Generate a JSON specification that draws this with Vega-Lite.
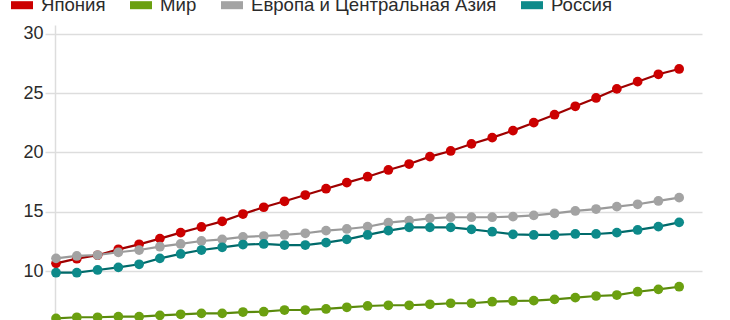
{
  "$schema": "https://vega.github.io/schema/vega-lite/v6.json",
  "autosize": "none",
  "width": 647,
  "height": 295,
  "padding": {"left": 55, "top": 25, "right": 28, "bottom": 0},
  "background": "white",
  "config": {
    "view": {"stroke": null},
    "font": "Liberation Sans"
  },
  "datasets": {
    "d": [
      {"year": 1985, "s": "Япония", "v": 10.67},
      {"year": 1986, "s": "Япония", "v": 11.06},
      {"year": 1987, "s": "Япония", "v": 11.35},
      {"year": 1988, "s": "Япония", "v": 11.85},
      {"year": 1989, "s": "Япония", "v": 12.27},
      {"year": 1990, "s": "Япония", "v": 12.75},
      {"year": 1991, "s": "Япония", "v": 13.25},
      {"year": 1992, "s": "Япония", "v": 13.73},
      {"year": 1993, "s": "Япония", "v": 14.2},
      {"year": 1994, "s": "Япония", "v": 14.82},
      {"year": 1995, "s": "Япония", "v": 15.39},
      {"year": 1996, "s": "Япония", "v": 15.89},
      {"year": 1997, "s": "Япония", "v": 16.42},
      {"year": 1998, "s": "Япония", "v": 16.95},
      {"year": 1999, "s": "Япония", "v": 17.46},
      {"year": 2000, "s": "Япония", "v": 17.96},
      {"year": 2001, "s": "Япония", "v": 18.53},
      {"year": 2002, "s": "Япония", "v": 19.03},
      {"year": 2003, "s": "Япония", "v": 19.65},
      {"year": 2004, "s": "Япония", "v": 20.13},
      {"year": 2005, "s": "Япония", "v": 20.72},
      {"year": 2006, "s": "Япония", "v": 21.25},
      {"year": 2007, "s": "Япония", "v": 21.84},
      {"year": 2008, "s": "Япония", "v": 22.51},
      {"year": 2009, "s": "Япония", "v": 23.18},
      {"year": 2010, "s": "Япония", "v": 23.89},
      {"year": 2011, "s": "Япония", "v": 24.59},
      {"year": 2012, "s": "Япония", "v": 25.35},
      {"year": 2013, "s": "Япония", "v": 25.96},
      {"year": 2014, "s": "Япония", "v": 26.58},
      {"year": 2015, "s": "Япония", "v": 27.03},
      {"year": 1985, "s": "Мир", "v": 6.04},
      {"year": 1986, "s": "Мир", "v": 6.13},
      {"year": 1987, "s": "Мир", "v": 6.13},
      {"year": 1988, "s": "Мир", "v": 6.18},
      {"year": 1989, "s": "Мир", "v": 6.18},
      {"year": 1990, "s": "Мир", "v": 6.29},
      {"year": 1991, "s": "Мир", "v": 6.38},
      {"year": 1992, "s": "Мир", "v": 6.46},
      {"year": 1993, "s": "Мир", "v": 6.46},
      {"year": 1994, "s": "Мир", "v": 6.57},
      {"year": 1995, "s": "Мир", "v": 6.6},
      {"year": 1996, "s": "Мир", "v": 6.74},
      {"year": 1997, "s": "Мир", "v": 6.74},
      {"year": 1998, "s": "Мир", "v": 6.83},
      {"year": 1999, "s": "Мир", "v": 6.97},
      {"year": 2000, "s": "Мир", "v": 7.08},
      {"year": 2001, "s": "Мир", "v": 7.14},
      {"year": 2002, "s": "Мир", "v": 7.14},
      {"year": 2003, "s": "Мир", "v": 7.22},
      {"year": 2004, "s": "Мир", "v": 7.31},
      {"year": 2005, "s": "Мир", "v": 7.31},
      {"year": 2006, "s": "Мир", "v": 7.44},
      {"year": 2007, "s": "Мир", "v": 7.5},
      {"year": 2008, "s": "Мир", "v": 7.53},
      {"year": 2009, "s": "Мир", "v": 7.64},
      {"year": 2010, "s": "Мир", "v": 7.78},
      {"year": 2011, "s": "Мир", "v": 7.92},
      {"year": 2012, "s": "Мир", "v": 8.0},
      {"year": 2013, "s": "Мир", "v": 8.28},
      {"year": 2014, "s": "Мир", "v": 8.48},
      {"year": 2015, "s": "Мир", "v": 8.7},
      {"year": 1985, "s": "Европа и Центральная Азия", "v": 11.09},
      {"year": 1986, "s": "Европа и Центральная Азия", "v": 11.29},
      {"year": 1987, "s": "Европа и Центральная Азия", "v": 11.37},
      {"year": 1988, "s": "Европа и Центральная Азия", "v": 11.6},
      {"year": 1989, "s": "Европа и Центральная Азия", "v": 11.79},
      {"year": 1990, "s": "Европа и Центральная Азия", "v": 12.07},
      {"year": 1991, "s": "Европа и Центральная Азия", "v": 12.3},
      {"year": 1992, "s": "Европа и Центральная Азия", "v": 12.55},
      {"year": 1993, "s": "Европа и Центральная Азия", "v": 12.69},
      {"year": 1994, "s": "Европа и Центральная Азия", "v": 12.9},
      {"year": 1995, "s": "Европа и Центральная Азия", "v": 12.97},
      {"year": 1996, "s": "Европа и Центральная Азия", "v": 13.06},
      {"year": 1997, "s": "Европа и Центральная Азия", "v": 13.2},
      {"year": 1998, "s": "Европа и Центральная Азия", "v": 13.42},
      {"year": 1999, "s": "Европа и Центральная Азия", "v": 13.56},
      {"year": 2000, "s": "Европа и Центральная Азия", "v": 13.75},
      {"year": 2001, "s": "Европа и Центральная Азия", "v": 14.09},
      {"year": 2002, "s": "Европа и Центральная Азия", "v": 14.26},
      {"year": 2003, "s": "Европа и Центральная Азия", "v": 14.46},
      {"year": 2004, "s": "Европа и Центральная Азия", "v": 14.55},
      {"year": 2005, "s": "Европа и Центральная Азия", "v": 14.55},
      {"year": 2006, "s": "Европа и Центральная Азия", "v": 14.55},
      {"year": 2007, "s": "Европа и Центральная Азия", "v": 14.6},
      {"year": 2008, "s": "Европа и Центральная Азия", "v": 14.71},
      {"year": 2009, "s": "Европа и Центральная Азия", "v": 14.88},
      {"year": 2010, "s": "Европа и Центральная Азия", "v": 15.08},
      {"year": 2011, "s": "Европа и Центральная Азия", "v": 15.24},
      {"year": 2012, "s": "Европа и Центральная Азия", "v": 15.44},
      {"year": 2013, "s": "Европа и Центральная Азия", "v": 15.64},
      {"year": 2014, "s": "Европа и Центральная Азия", "v": 15.92},
      {"year": 2015, "s": "Европа и Центральная Азия", "v": 16.2},
      {"year": 1985, "s": "Россия", "v": 9.88},
      {"year": 1986, "s": "Россия", "v": 9.88},
      {"year": 1987, "s": "Россия", "v": 10.11},
      {"year": 1988, "s": "Россия", "v": 10.33},
      {"year": 1989, "s": "Россия", "v": 10.59},
      {"year": 1990, "s": "Россия", "v": 11.09},
      {"year": 1991, "s": "Россия", "v": 11.46},
      {"year": 1992, "s": "Россия", "v": 11.79},
      {"year": 1993, "s": "Россия", "v": 12.02},
      {"year": 1994, "s": "Россия", "v": 12.25},
      {"year": 1995, "s": "Россия", "v": 12.3},
      {"year": 1996, "s": "Россия", "v": 12.21},
      {"year": 1997, "s": "Россия", "v": 12.21},
      {"year": 1998, "s": "Россия", "v": 12.41},
      {"year": 1999, "s": "Россия", "v": 12.69},
      {"year": 2000, "s": "Россия", "v": 13.06},
      {"year": 2001, "s": "Россия", "v": 13.42},
      {"year": 2002, "s": "Россия", "v": 13.7},
      {"year": 2003, "s": "Россия", "v": 13.7},
      {"year": 2004, "s": "Россия", "v": 13.7},
      {"year": 2005, "s": "Россия", "v": 13.53},
      {"year": 2006, "s": "Россия", "v": 13.33},
      {"year": 2007, "s": "Россия", "v": 13.11},
      {"year": 2008, "s": "Россия", "v": 13.06},
      {"year": 2009, "s": "Россия", "v": 13.06},
      {"year": 2010, "s": "Россия", "v": 13.14},
      {"year": 2011, "s": "Россия", "v": 13.14},
      {"year": 2012, "s": "Россия", "v": 13.25},
      {"year": 2013, "s": "Россия", "v": 13.48},
      {"year": 2014, "s": "Россия", "v": 13.76},
      {"year": 2015, "s": "Россия", "v": 14.12}
    ]
  },
  "data": {"name": "d"},
  "encoding": {
    "x": {
      "field": "year", "type": "quantitative",
      "scale": {"domain": [1984.95, 2016.1], "nice": false, "zero": false},
      "axis": null
    },
    "y": {
      "field": "v", "type": "quantitative",
      "scale": {"domain": [5.9, 30.73], "nice": false, "zero": false},
      "axis": {
        "title": null,
        "values": [10, 15, 20, 25, 30],
        "labelFontSize": 18,
        "labelColor": "#2b2b2b",
        "labelPadding": 2,
        "tickSize": 10,
        "tickColor": "#dddddd",
        "tickWidth": 1.5,
        "domainColor": "#dddddd",
        "domainWidth": 1.5,
        "gridColor": "#dddddd",
        "gridWidth": 1.5
      }
    }
  },
  "layer": [
    {
      "mark": {"type": "line", "strokeWidth": 2.2},
      "encoding": {
        "color": {
          "field": "s", "type": "nominal", "legend": null,
          "scale": {
            "domain": ["Япония", "Мир", "Европа и Центральная Азия", "Россия"],
            "range": ["#9e0000", "#5a8a0c", "#9a9a9a", "#006a6a"]
          }
        },
        "detail": {"field": "s"}
      }
    },
    {
      "mark": {"type": "point", "filled": true, "opacity": 1, "size": 95},
      "encoding": {
        "color": {
          "field": "s", "type": "nominal",
          "scale": {
            "domain": ["Япония", "Мир", "Европа и Центральная Азия", "Россия"],
            "range": ["#cc0000", "#6ba010", "#a3a3a3", "#0d8a8a"]
          },
          "legend": {
            "title": null,
            "orient": "none",
            "direction": "horizontal",
            "legendX": -44,
            "legendY": -31,
            "padding": 0,
            "symbolType": "M-1,-0.364H1V0.364H-1Z",
            "symbolSize": 484,
            "symbolStrokeWidth": 0,
            "labelFontSize": 18.6,
            "labelColor": "#2b2b2b",
            "labelOffset": 8,
            "columnPadding": 24,
            "labelLimit": 400
          }
        }
      }
    }
  ],
  "resolve": {"scale": {"color": "independent"}}
}
